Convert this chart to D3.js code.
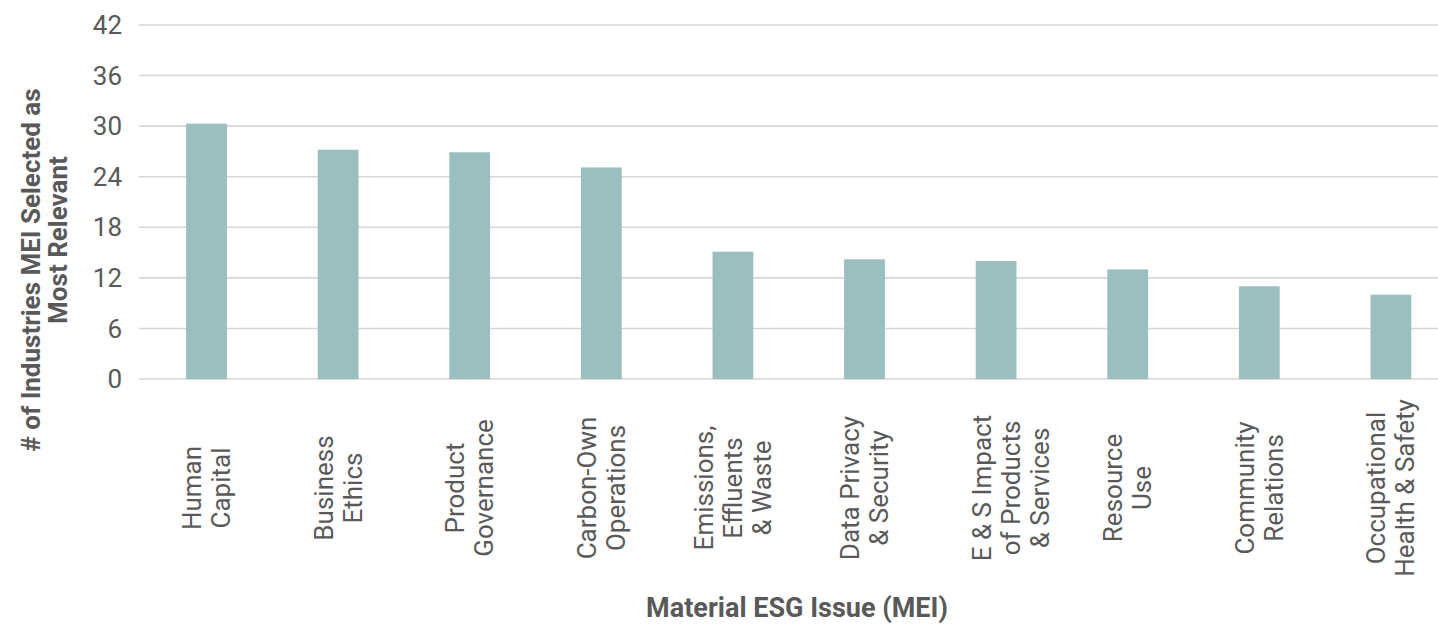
<!DOCTYPE html>
<html>
<head>
<meta charset="utf-8">
<script src="https://cdn.jsdelivr.net/npm/d3@7/dist/d3.min.js"></script>
<style>
  html, body { margin: 0; padding: 0; background: #fff; }
  svg { display: block; font-family: Roboto, "Noto Sans", sans-serif; }
</style>
</head>
<body>
<svg id="chart" width="1438" height="624"></svg>
<script>
const categories = [
  "Human Capital", "Business Ethics", "Product Governance", "Carbon-Own Operations",
  "Emissions, Effluents & Waste", "Data Privacy & Security", "E & S Impact of Products & Services",
  "Resource Use", "Community Relations", "Occupational Health & Safety"
];
const labelLines = [
  ["Human", "Capital"],
  ["Business", "Ethics"],
  ["Product", "Governance"],
  ["Carbon-Own", "Operations"],
  ["Emissions,", "Effluents", "& Waste"],
  ["Data Privacy", "& Security"],
  ["", "E & S Impact", "of Products", "& Services"],
  ["Resource", "Use"],
  ["Community", "Relations"],
  ["Occupational", "Health & Safety"]
];
const values = [30.3, 27.2, 26.9, 25.1, 15.1, 14.2, 14.0, 13.0, 11.0, 10.0];
const yTicks = [0, 6, 12, 18, 24, 30, 36, 42];
const yTitleLines = ["# of Industries MEI Selected as", "Most Relevant"];
const xTitle = "Material ESG Issue (MEI)";

const svg = d3.select("#chart");
const plotLeft = 139, plotRight = 1438, plotTop = 25, plotBottom = 379;

const x = d3.scaleBand().domain(categories).range([140.7, 1456.7])
  .paddingInner(0.69).paddingOuter(0.345);
const y = d3.scaleLinear().domain([0, 42]).range([plotBottom, plotTop]);

// gridlines
svg.append("g").selectAll("line").data(yTicks).join("line")
  .attr("x1", plotLeft).attr("x2", plotRight)
  .attr("y1", d => y(d)).attr("y2", d => y(d))
  .attr("stroke", "#d6d6d6").attr("stroke-width", 1.6);

// y tick labels
svg.append("g").selectAll("text").data(yTicks).join("text")
  .attr("x", 122).attr("y", d => y(d)).attr("dy", "0.35em")
  .attr("text-anchor", "end").attr("font-size", 26).attr("fill", "#595959")
  .text(d => d);

// bars
svg.append("g").selectAll("rect").data(categories).join("rect")
  .attr("x", d => x(d)).attr("width", x.bandwidth())
  .attr("y", (d, i) => y(values[i])).attr("height", (d, i) => y(0) - y(values[i]))
  .attr("fill", "#9bbfbf");

// x labels
const lineH = 29;
const lg = svg.append("g").selectAll("g").data(categories).join("g")
  .attr("transform", d => `translate(${x(d) + x.bandwidth() / 2},488) rotate(-90)`);
lg.each(function (d, i) {
  const lines = labelLines[i];
  const n = lines.length;
  d3.select(this).selectAll("text").data(lines).join("text")
    .attr("x", 0)
    .attr("y", (l, j) => 9 + (j - (n - 1) / 2) * lineH)
    .attr("text-anchor", "middle").attr("font-size", 26).attr("fill", "#595959")
    .text(l => l);
});

// y title
const yTitlePos = [[40, 270], [67, 240]];
svg.append("g").selectAll("text").data(yTitleLines).join("text")
  .attr("transform", (d, i) => `translate(${yTitlePos[i][0]},${yTitlePos[i][1]}) rotate(-90)`)
  .attr("text-anchor", "middle").attr("font-size", 26).attr("font-weight", "bold")
  .attr("fill", "#595959").text(d => d);

// x title
svg.append("text").attr("x", 797).attr("y", 617)
  .attr("text-anchor", "middle").attr("font-size", 27).attr("font-weight", "bold")
  .attr("fill", "#595959").text(xTitle);
</script>
</body>
</html>
